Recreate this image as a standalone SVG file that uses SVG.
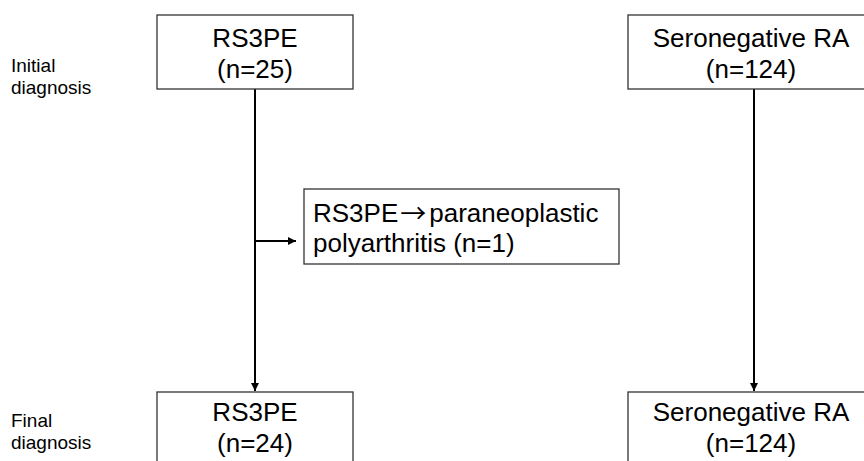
<svg xmlns="http://www.w3.org/2000/svg" width="864" height="461" viewBox="0 0 864 461">
<defs>
<style>
.box{fill:#fff;stroke:#333;stroke-width:1.3}
.t{font-family:"Liberation Sans",Arial,sans-serif;font-size:26px;fill:#000}
.c{text-anchor:middle}
.arr{font-family:"Noto Sans CJK JP","DejaVu Sans",sans-serif}
.lbl{font-family:"Liberation Sans",Arial,sans-serif;font-size:19px;fill:#000}
.con{stroke:#000;stroke-width:2;fill:none}
</style>
<marker id="ah" viewBox="0 0 10 10" refX="10" refY="5" markerWidth="4" markerHeight="4" markerUnits="strokeWidth" orient="auto">
<path d="M0,0 L10,5 L0,10 Z" fill="#000"/>
</marker>
</defs>
<rect width="864" height="461" fill="#fff"/>
<g id="labels">
<text class="lbl" x="11" y="72">Initial</text>
<text class="lbl" x="11" y="94">diagnosis</text>
<text class="lbl" x="11" y="427">Final</text>
<text class="lbl" x="11" y="449">diagnosis</text>
</g>
<g id="connectors">
<line class="con" x1="255" y1="89" x2="255" y2="391" marker-end="url(#ah)"/>
<line class="con" x1="255" y1="241" x2="296" y2="241" marker-end="url(#ah)"/>
<line class="con" x1="754" y1="89" x2="754" y2="391" marker-end="url(#ah)"/>
</g>
<g id="rs3pe-initial">
<rect class="box" x="157" y="15" width="196" height="74"/>
<text class="t c" x="255" y="47">RS3PE</text>
<text class="t c" x="255" y="78">(n=25)</text>
</g>
<g id="sero-initial">
<rect class="box" x="628" y="15" width="252" height="74"/>
<text class="t c" x="751" y="47">Seronegative RA</text>
<text class="t c" x="751" y="78">(n=124)</text>
</g>
<g id="paraneoplastic">
<rect class="box" x="304" y="189" width="315" height="75"/>
<text class="t" x="313" y="222">RS3PE<tspan class="arr" dx="2" dy="1">→</tspan><tspan dx="3" dy="-1">paraneoplastic</tspan></text>
<text class="t" x="313" y="252">polyarthritis (n=1)</text>
</g>
<g id="rs3pe-final">
<rect class="box" x="157" y="392" width="196" height="80"/>
<text class="t c" x="255" y="421">RS3PE</text>
<text class="t c" x="255" y="452">(n=24)</text>
</g>
<g id="sero-final">
<rect class="box" x="628" y="392" width="252" height="80"/>
<text class="t c" x="751" y="421">Seronegative RA</text>
<text class="t c" x="751" y="452">(n=124)</text>
</g>
</svg>
